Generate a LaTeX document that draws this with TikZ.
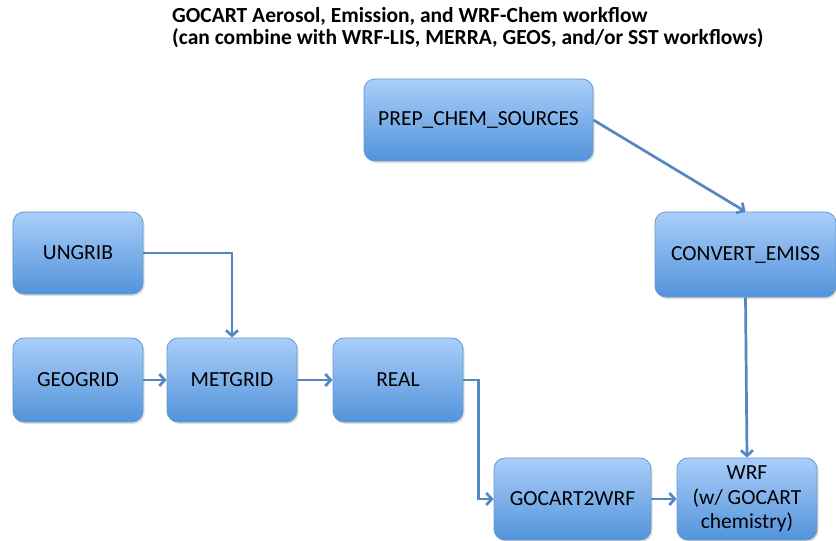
\documentclass[tikz,border=0pt]{standalone}
\usepackage{fontspec}
\setmainfont{Carlito}
\usetikzlibrary{arrows.meta,shadows}
\definecolor{boxtop}{RGB}{170,206,250}
\definecolor{boxbot}{RGB}{82,147,218}
\definecolor{boxline}{RGB}{105,150,205}
\definecolor{arrowc}{RGB}{85,135,195}
\tikzset{
  wbox/.style={draw=boxline, line width=0.8bp, rounded corners=11bp,
    top color=boxtop, bottom color=boxbot, minimum height=83bp,
    inner sep=0pt, align=center, text=black,
    font=\fontsize{21.5bp}{24.5bp}\selectfont,
    drop shadow={opacity=0.25, shadow xshift=1.5bp, shadow yshift=-2bp}},
  flow/.style={draw=arrowc, line width=2.7bp,
    -{Straight Barb[length=5.5bp,width=12bp]}},
  titletext/.style={anchor=base west, inner sep=0pt,
    font=\bfseries\fontsize{21.5bp}{24bp}\selectfont}
}
\begin{document}
\begin{tikzpicture}[x=1bp,y=-1bp]
\useasboundingbox[fill=white] (0,0) rectangle (836,541);
\node[titletext] (title1) at (172,23) {GOCART Aerosol, Emission, and WRF-Chem workflow};
\node[titletext] (title2) at (172,45) {(can combine with WRF-LIS, MERRA, GEOS, and/or SST workflows)};

\node[wbox, minimum width=229bp, minimum height=82bp] (prep) at (478.5,120) {PREP\_CHEM\_SOURCES};
\node[wbox, minimum width=130bp, minimum height=82bp] (ungrib) at (78,253) {UNGRIB};
\node[wbox, minimum width=181bp, minimum height=85bp] (convert) at (745.5,254.5) {CONVERT\_EMISS};
\node[wbox, minimum width=130bp, minimum height=84bp] (geogrid) at (78,380) {GEOGRID};
\node[wbox, minimum width=130bp, minimum height=84bp] (metgrid) at (232,380) {METGRID};
\node[wbox, minimum width=130bp, minimum height=84bp] (real) at (398,380) {REAL};
\node[wbox, minimum width=157bp, minimum height=82bp] (gocart) at (572.5,499) {GOCART2WRF};
\node[wbox, minimum width=140bp, minimum height=82bp] (wrf) at (747,499) {WRF\\(w/ GOCART\\chemistry)};

\draw[flow] (prep.east) -- (convert.north);
\draw[flow] (ungrib.east) -| (metgrid.north);
\draw[flow] (geogrid) -- (metgrid);
\draw[flow] (metgrid) -- (real);
\draw[flow] (real.east) -- ++(15,0) |- (gocart.west);
\draw[flow] (gocart) -- (wrf);
\draw[flow] (convert.south) -- (wrf.north);
\end{tikzpicture}
\end{document}
